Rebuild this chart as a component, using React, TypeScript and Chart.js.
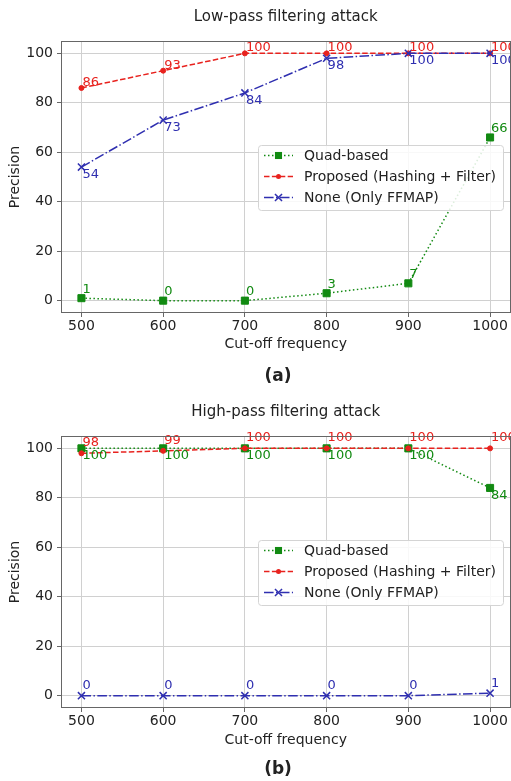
import React, { useEffect, useRef } from 'react';
import { Chart, registerables } from 'chart.js';

Chart.register(...registerables);

// ---- data ----
const cutoffs = [500, 600, 700, 800, 900, 1000];
const yTickValues = [0, 20, 40, 60, 80, 100];
const seriesNames = ['Quad-based', 'Proposed (Hashing + Filter)', 'None (Only FFMAP)'];

const lowQuad = [1, 0, 0, 3, 7, 66];
const lowProposed = [86, 93, 100, 100, 100, 100];
const lowNone = [54, 73, 84, 98, 100, 100];

const highQuad = [100, 100, 100, 100, 100, 84];
const highProposed = [98, 99, 100, 100, 100, 100];
const highNone = [0, 0, 0, 0, 0, 1];

const chartTitles = ['Low-pass filtering attack', 'High-pass filtering attack'];
const captions = ['(a)', '(b)'];
const xLabel = 'Cut-off frequency';
const yLabel = 'Precision';

// ---- styles ----
const FONT = '"DejaVu Sans", "Liberation Sans", sans-serif';
const TEXT = '#222222';
const GREEN = '#128a12';
const RED = '#e8221e';
const BLUE = '#2f2fb0';

type SeriesStyle = {
  color: string;
  dash: number[];
  pointStyle: string;
  radius: number;
  pointBorderWidth: number;
};

const seriesStyles: SeriesStyle[] = [
  { color: GREEN, dash: [1.5, 2.5], pointStyle: 'rect', radius: 5, pointBorderWidth: 1 },
  { color: RED, dash: [5.5, 2.4], pointStyle: 'circle', radius: 2.5, pointBorderWidth: 1 },
  { color: BLUE, dash: [9.6, 2.4, 1.5, 2.4], pointStyle: 'crossRot', radius: 5, pointBorderWidth: 1.5 },
];

type LabelCfg = { pos: 'above' | 'below'; gap: number };

type PanelCfg = {
  height: number;
  areaLeft: number;
  areaRight: number;
  areaTop: number;
  areaBottom: number;
  titleY: number;
  captionY: number;
  xTitlePad: number;
  values: number[][];
  labels: LabelCfg[];
  title: string;
  caption: string;
};

const panels: PanelCfg[] = [
  {
    height: 392,
    areaLeft: 61,
    areaRight: 510,
    areaTop: 41,
    areaBottom: 313,
    titleY: 17,
    captionY: 377,
    xTitlePad: 39.6,
    values: [lowQuad, lowProposed, lowNone],
    labels: [
      { pos: 'above', gap: 5.5 },
      { pos: 'above', gap: 2 },
      { pos: 'below', gap: 1 },
    ],
    title: chartTitles[0],
    caption: captions[0],
  },
  {
    height: 389,
    areaLeft: 61,
    areaRight: 510,
    areaTop: 44,
    areaBottom: 316,
    titleY: 20,
    captionY: 378,
    xTitlePad: 32.6,
    values: [highQuad, highProposed, highNone],
    labels: [
      { pos: 'below', gap: 1 },
      { pos: 'above', gap: 7 },
      { pos: 'above', gap: 6.5 },
    ],
    title: chartTitles[1],
    caption: captions[1],
  },
];

function drawMarker(ctx: CanvasRenderingContext2D, st: SeriesStyle, x: number, y: number) {
  ctx.save();
  ctx.setLineDash([]);
  ctx.fillStyle = st.color;
  ctx.strokeStyle = st.color;
  if (st.pointStyle === 'rect') {
    const s = st.radius * Math.SQRT1_2;
    ctx.fillRect(x - s, y - s, 2 * s, 2 * s);
  } else if (st.pointStyle === 'circle') {
    ctx.beginPath();
    ctx.arc(x, y, st.radius, 0, Math.PI * 2);
    ctx.fill();
  } else {
    const s = st.radius * Math.SQRT1_2;
    ctx.lineWidth = st.pointBorderWidth;
    ctx.beginPath();
    ctx.moveTo(x - s, y - s);
    ctx.lineTo(x + s, y + s);
    ctx.moveTo(x - s, y + s);
    ctx.lineTo(x + s, y - s);
    ctx.stroke();
  }
  ctx.restore();
}

const decorPlugin = {
  id: 'decor',
  afterDatasetsDraw(chart: any, _args: any, opts: any) {
    const { ctx, chartArea: a } = chart;
    const cfg: PanelCfg = opts.panel;
    ctx.save();

    // value labels
    ctx.font = `13px ${FONT}`;
    ctx.textAlign = 'left';
    chart.data.datasets.forEach((ds: any, i: number) => {
      const meta = chart.getDatasetMeta(i);
      const lc = cfg.labels[i];
      ctx.fillStyle = seriesStyles[i].color;
      meta.data.forEach((pt: any, j: number) => {
        const v = ds.data[j].y;
        if (lc.pos === 'below') {
          ctx.textBaseline = 'top';
          ctx.fillText(String(v), pt.x + 1, pt.y + lc.gap);
        } else {
          ctx.textBaseline = 'alphabetic';
          ctx.fillText(String(v), pt.x + 1, pt.y - lc.gap);
        }
      });
    });

    // spines
    ctx.strokeStyle = '#666666';
    ctx.lineWidth = 1;
    ctx.setLineDash([]);
    ctx.strokeRect(
      Math.round(a.left) + 0.5,
      Math.round(a.top) + 0.5,
      Math.round(a.right - a.left) - 1,
      Math.round(a.bottom - a.top) - 1
    );

    // legend
    const lx = Math.round(a.right) - 253;
    const ly = Math.round(a.top) + 104;
    const lw = 245;
    const lh = 65;
    ctx.beginPath();
    (ctx as any).roundRect(lx + 0.5, ly + 0.5, lw, lh, 3);
    ctx.fillStyle = 'rgba(255,255,255,0.85)';
    ctx.fill();
    ctx.strokeStyle = '#d4d4d4';
    ctx.lineWidth = 1;
    ctx.stroke();

    ctx.font = `14px ${FONT}`;
    ctx.textBaseline = 'middle';
    ctx.textAlign = 'left';
    seriesNames.forEach((name, i) => {
      const st = seriesStyles[i];
      const ry = ly + 10.5 + 21 * i;
      ctx.save();
      ctx.strokeStyle = st.color;
      ctx.lineWidth = 1.5;
      ctx.setLineDash(st.dash);
      ctx.beginPath();
      ctx.moveTo(lx + 6, ry);
      ctx.lineTo(lx + 35, ry);
      ctx.stroke();
      ctx.restore();
      drawMarker(ctx, st, lx + 20.5, ry);
      ctx.fillStyle = TEXT;
      ctx.fillText(name, lx + 46, ry + 0.5);
    });

    ctx.restore();
  },
  afterDraw(chart: any, _args: any, opts: any) {
    const { ctx, chartArea: a } = chart;
    const cfg: PanelCfg = opts.panel;
    ctx.save();
    ctx.fillStyle = TEXT;
    ctx.textAlign = 'center';
    ctx.textBaseline = 'middle';
    ctx.font = `15px ${FONT}`;
    ctx.fillText(cfg.title, (a.left + a.right) / 2, cfg.titleY);
    ctx.font = `bold 17px ${FONT}`;
    ctx.fillText(cfg.caption, 278, cfg.captionY);
    ctx.restore();
  },
};

function buildChart(canvas: HTMLCanvasElement, cfg: PanelCfg) {
  const datasets = cfg.values.map((vals, i) => {
    const st = seriesStyles[i];
    return {
      label: seriesNames[i],
      data: cutoffs.map((x, j) => ({ x, y: vals[j] })),
      borderColor: st.color,
      backgroundColor: st.color,
      borderWidth: 1.5,
      borderDash: st.dash,
      pointStyle: st.pointStyle,
      pointRadius: st.radius,
      pointHoverRadius: st.radius,
      pointBorderWidth: st.pointBorderWidth,
      pointBackgroundColor: st.color,
      pointBorderColor: st.color,
      tension: 0,
      fill: false,
      order: 2 - i,
    };
  });
  return new Chart(canvas, {
    type: 'line',
    data: { datasets } as any,
    options: {
      animation: false,
      responsive: false,
      maintainAspectRatio: false,
      layout: { padding: { top: cfg.areaTop, left: 0, right: 1, bottom: 0 } },
      plugins: {
        legend: { display: false },
        title: { display: false },
        tooltip: { enabled: false },
        decor: { panel: cfg },
      } as any,
      scales: {
        x: {
          type: 'linear',
          min: 475,
          max: 1025,
          offset: false,
          afterBuildTicks: (s: any) => {
            s.ticks = cutoffs.map((v) => ({ value: v }));
          },
          afterFit: (s: any) => {
            s.height = cfg.height - cfg.areaBottom;
          },
          ticks: {
            font: { family: FONT, size: 14 },
            color: TEXT,
            padding: 1,
            maxRotation: 0,
            autoSkip: false,
            callback: (v: any) => String(v),
          },
          grid: { color: '#d0d0d0', tickColor: '#666666', tickLength: 4, lineWidth: 1 },
          border: { display: false },
          title: {
            display: true,
            text: xLabel,
            font: { family: FONT, size: 14 },
            color: TEXT,
            padding: { top: 0, bottom: cfg.xTitlePad },
          },
        },
        y: {
          type: 'linear',
          min: -5,
          max: 105,
          afterBuildTicks: (s: any) => {
            s.ticks = yTickValues.map((v) => ({ value: v }));
          },
          afterFit: (s: any) => {
            s.width = cfg.areaLeft;
          },
          ticks: {
            font: { family: FONT, size: 14 },
            color: TEXT,
            padding: 4,
            callback: (v: any) => String(v),
          },
          grid: { color: '#d0d0d0', tickColor: '#666666', tickLength: 4, lineWidth: 1 },
          border: { display: false },
          title: {
            display: true,
            text: yLabel,
            font: { family: FONT, size: 14 },
            color: TEXT,
            padding: { top: 6.6, bottom: 0 },
          },
        },
      },
    } as any,
    plugins: [decorPlugin as any],
  });
}

function Panel({ cfg }: { cfg: PanelCfg }) {
  const ref = useRef<HTMLCanvasElement | null>(null);
  useEffect(() => {
    const canvas = ref.current;
    if (!canvas) return;
    let w = 511;
    const setSize = (width: number) => {
      canvas.width = width;
      canvas.height = cfg.height;
      canvas.style.width = width + 'px';
      canvas.style.height = cfg.height + 'px';
    };
    setSize(w);
    let chart = buildChart(canvas, cfg);
    // Chart.js keeps a few px of extra right padding; widen the canvas (clipped by the
    // 511px wrapper) until the plot's right edge sits where the reference has it.
    for (let k = 0; k < 3; k++) {
      const dr = cfg.areaRight - chart.chartArea.right;
      if (Math.abs(dr) < 0.75) break;
      chart.destroy();
      w = Math.round(w + dr);
      setSize(w);
      chart = buildChart(canvas, cfg);
    }
    return () => chart.destroy();
  }, [cfg]);
  return (
    <div style={{ width: 511, height: cfg.height, overflow: 'hidden' }}>
      <canvas ref={ref} width={511} height={cfg.height} style={{ display: 'block' }} />
    </div>
  );
}

export default function App() {
  useEffect(() => {
    document.body.style.margin = '0';
    document.body.style.background = '#ffffff';
  }, []);
  return (
    <div style={{ width: 511, height: 781, background: '#fff', overflow: 'hidden' }}>
      {panels.map((p, i) => (
        <Panel key={i} cfg={p} />
      ))}
    </div>
  );
}
